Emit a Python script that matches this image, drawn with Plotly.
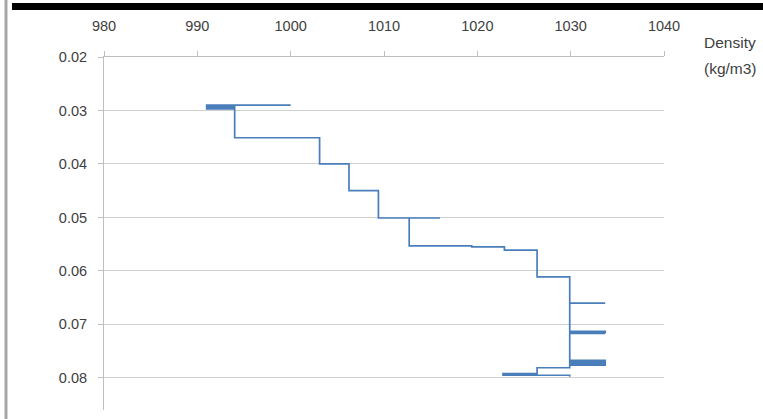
import plotly.graph_objects as go

# Step profile: density (kg/m3) vs vertical coordinate
density = [1000.0, 991.0, 991.0, 994.0, 994.0, 991.0, 991.0, 994.0, 994.0,
           1003.1, 1003.1, 1006.25, 1006.25, 1009.4, 1009.4, 1016.0, 1012.7, 1012.7,
           1019.4, 1019.4, 1022.9, 1022.9, 1026.4, 1026.4, 1029.9, 1029.9, 1033.7, 1029.9,
           1029.9, 1033.7, 1033.7, 1029.9, 1029.9, 1033.7,
           1029.9, 1029.9, 1033.7, 1033.7, 1029.9, 1029.9, 1033.7, 1033.7, 1029.9,
           1029.9, 1026.4, 1026.4, 1022.75, 1022.75, 1026.4, 1029.9, 1029.9]
level = [0.0290, 0.0290, 0.0293, 0.0293, 0.0295, 0.0295, 0.0297, 0.0297, 0.0351,
         0.0351, 0.0400, 0.0400, 0.0450, 0.0450, 0.0501, 0.0501, 0.0501, 0.0553,
         0.0553, 0.0555, 0.0555, 0.0561, 0.0561, 0.0611, 0.0611, 0.0660, 0.0660, 0.0660,
         0.0713, 0.0713, 0.0715, 0.0715, 0.0717, 0.0717,
         0.0717, 0.0767, 0.0767, 0.0770, 0.0770, 0.0773, 0.0773, 0.0776, 0.0776,
         0.0781, 0.0781, 0.0792, 0.0792, 0.0795, 0.0795, 0.0795, 0.0798]

x_ticks = [980, 990, 1000, 1010, 1020, 1030, 1040]
y_ticks = [0.02, 0.03, 0.04, 0.05, 0.06, 0.07, 0.08]
x_title_lines = ["Density", "(kg/m3)"]

W, H = 763, 419
L, R, T, B = 104, 664, 57, 410


def px_x(p):
    return (p - L) / (R - L)


def px_y(p):
    return (B - p) / (B - T)


fig = go.Figure()
fig.add_trace(go.Scatter(x=density, y=level, mode="lines",
                         line=dict(color="#4A7EBB", width=1.7), showlegend=False,
                         hoverinfo="x+y"))

tickfont = dict(family="Liberation Sans", size=14.5, color="#404040")
titlefont = dict(family="Liberation Sans", size=15.5, color="#404040")
fig.update_layout(
    width=W, height=H,
    margin=dict(l=L, r=W - R, t=T, b=H - B),
    paper_bgcolor="white", plot_bgcolor="white",
    xaxis=dict(side="top", range=[980, 1040], tickvals=x_ticks,
               showgrid=False, zeroline=False, showline=True, linecolor="#bfbfbf",
               linewidth=1, ticks="outside", ticklen=5, tickcolor="#bfbfbf",
               tickfont=tickfont, ticklabelstandoff=14),
    yaxis=dict(range=[0.086, 0.02], tickvals=y_ticks, tickformat=".2f",
               showgrid=True, gridcolor="#d0d0d0", gridwidth=1, zeroline=False,
               showline=True, linecolor="#bfbfbf", linewidth=1, ticks="outside",
               ticklen=5, tickcolor="#bfbfbf", tickfont=tickfont, ticklabelstandoff=8),
    annotations=[
        dict(text=x_title_lines[0], xref="paper", yref="paper", x=px_x(730), y=px_y(43),
             xanchor="center", yanchor="middle", showarrow=False, font=titlefont),
        dict(text=x_title_lines[1], xref="paper", yref="paper", x=px_x(730), y=px_y(68),
             xanchor="center", yanchor="middle", showarrow=False, font=titlefont),
    ],
    shapes=[
        dict(type="rect", xref="paper", yref="paper", x0=px_x(12), x1=px_x(763),
             y0=px_y(10), y1=px_y(3), fillcolor="black", line=dict(width=0), layer="above"),
        dict(type="line", xref="paper", yref="paper", x0=px_x(6), x1=px_x(6),
             y0=px_y(419), y1=px_y(0), line=dict(color="#a6a6a6", width=3)),
    ],
)

fig.write_html("out.html", config={"displayModeBar": False},
               post_script="document.body.style.margin='0';")
